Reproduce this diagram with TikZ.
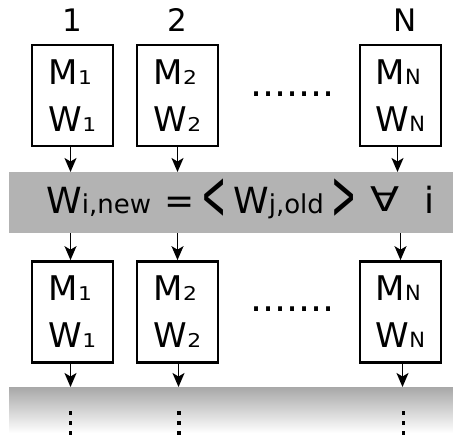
\documentclass[tikz,border=0pt]{standalone}
\usepackage{fontspec}
\setmainfont{DejaVu Sans}
\usetikzlibrary{arrows.meta}
\definecolor{bandgray}{RGB}{179,179,179}
\definecolor{fadegray}{RGB}{168,168,168}
\newcommand{\sbd}[1]{{\fontsize{19}{19}\selectfont\scalebox{1.15}[1]{#1}}}
\newcommand{\sbn}{{\fontsize{21}{21}\selectfont N}}
\newcommand{\sbt}[1]{{\fontsize{26}{26}\selectfont #1}}
\begin{document}
\begin{tikzpicture}[x=1pt,y=-1pt,
  mbox/.style={draw, line width=2.7pt, minimum width=81pt, minimum height=101pt,
    inner sep=0pt, align=left, font=\fontsize{34}{47}\selectfont},
  arr/.style={-{Stealth[length=14pt,width=12pt,inset=3.5pt]}, line width=1.5pt},
  lbl/.style={anchor=base, inner sep=0pt, font=\fontsize{31}{31}\selectfont},
  eq/.style={anchor=base west, inner sep=0pt, font=\fontsize{36}{36}\selectfont},
  dotsrow/.style={anchor=base west, inner sep=0pt, font=\fontsize{38}{38}\selectfont},
  vdot/.style={fill=black, minimum size=3.6pt, inner sep=0pt}]
\useasboundingbox (0,0) rectangle (453,441);
% bands
\node[fill=bandgray, minimum width=444pt, minimum height=61pt, inner sep=0pt, anchor=north west] (band) at (9,172) {};
\node[top color=fadegray, bottom color=white, draw=none, minimum width=444pt, minimum height=46pt, inner sep=0pt, anchor=north west] (fade) at (9,387) {};
% labels
\node[lbl] (l1) at (72,32) {1};
\node[lbl] (l2) at (177,32) {2};
\node[lbl] (lN) at (405,32) {N};
% top boxes
\node[mbox] (a1) at (72.5,95.5) {M\sbd{1}\\W\sbd{1}};
\node[mbox] (a2) at (177.5,95.5) {M\sbd{2}\\W\sbd{2}};
\node[mbox] (aN) at (400.5,95.5) {M\sbn\\W\sbn};
\node[dotsrow] (ad) at (250,97) {.......};
% bottom boxes
\node[mbox] (b1) at (72.5,312) {M\sbd{1}\\W\sbd{1}};
\node[mbox] (b2) at (177.5,312) {M\sbd{2}\\W\sbd{2}};
\node[mbox] (bN) at (400.5,312) {M\sbn\\W\sbn};
\node[dotsrow] (bd) at (250,311) {.......};
% equation
\node[eq] (e1) at (46,214) {W\sbt{i,new}};
\node[eq] (e2) at (164,214) {=};
\node[eq] (e3) at (201,220) {\fontsize{40}{40}\selectfont\scalebox{0.75}[1.75]{<}};
\node[eq] (e4) at (233,214) {W\sbt{j,old}};
\node[eq] (e5) at (331,220) {\fontsize{40}{40}\selectfont\scalebox{0.75}[1.75]{>}};
\node[eq] (e6) at (370,212) {\fontsize{34}{34}\selectfont\scalebox{1.25}[1]{∀}};
\node[eq] (e7) at (424,214) {i};
% arrows
\draw[arr] ([xshift=-2pt]a1.south) -- ([xshift=-2pt]a1.south |- band.north);
\draw[arr] (a2.south) -- (a2.south |- band.north);
\draw[arr] ([xshift=-3pt]aN.south) -- ([xshift=-3pt]aN.south |- band.north);
\draw[arr] ([xshift=-2pt]b1.north |- band.south) -- ([xshift=-2pt]b1.north);
\draw[arr] (b2.north |- band.south) -- (b2.north);
\draw[arr] (bN.north |- band.south) -- (bN.north);
\draw[arr] ([xshift=-2pt]b1.south) -- ([xshift=-2pt]b1.south |- fade.north);
\draw[arr] ([xshift=1pt]b2.south) -- ([xshift=1pt]b2.south |- fade.north);
\draw[arr] ([xshift=2pt]bN.south) -- ([xshift=2pt]bN.south |- fade.north);
% vertical dots
\foreach \x/\n in {70.5/1,179/2,403.5/3}{
  \foreach \y/\m in {413/a,423/b,433/c}{
    \node[vdot] (v\n\m) at (\x,\y) {};
  }
}
\end{tikzpicture}
\end{document}
